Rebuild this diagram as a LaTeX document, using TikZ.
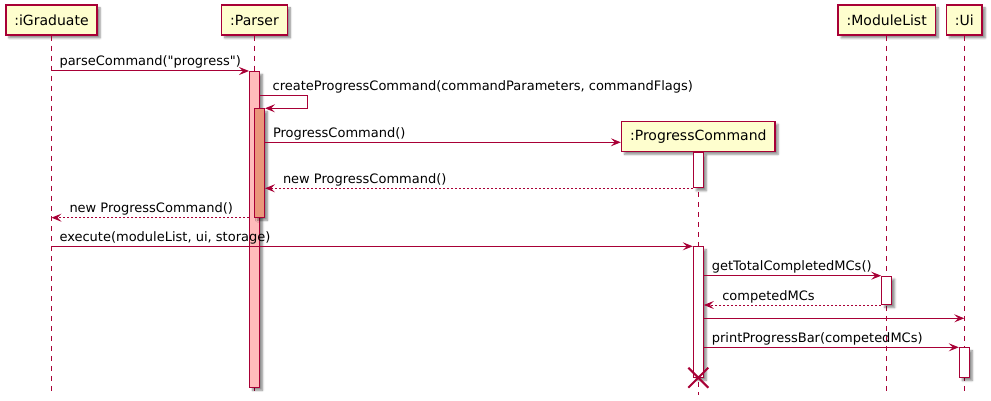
\documentclass[tikz,border=0pt]{standalone}
\usepackage{fontspec}
\setmainfont{DejaVu Sans}[Ligatures=TeXOff]
\usetikzlibrary{arrows.meta,shadows.blur,calc}
\definecolor{umlred}{HTML}{A80036}
\definecolor{umlbox}{HTML}{FEFECE}
\definecolor{actpink}{HTML}{FFBBBB}
\definecolor{actsalmon}{HTML}{E9967A}
\tikzset{
  shade box/.style={blur shadow={shadow xshift=3pt,shadow yshift=-3pt,shadow blur radius=2pt,shadow blur steps=5,shadow opacity=45}},
  part/.style={draw=umlred,line width=1.5pt,fill=umlbox,minimum height=30pt,inner xsep=8.5pt,
    font=\fontsize{14}{16}\selectfont,shade box},
  act/.style={draw=umlred,line width=1pt,fill=white,minimum width=10pt,inner sep=0pt,anchor=north,shade box},
  life/.style={umlred,line width=1pt,dash pattern=on 5pt off 5pt},
  msg/.style={umlred,line width=1pt,-{Stealth[length=10pt,width=8pt,inset=4pt]}},
  ret/.style={msg,dash pattern=on 2pt off 2pt},
  lbl/.style={text=black,font=\fontsize{13}{15}\selectfont,inner sep=0pt,anchor=base west},
}

\begin{document}
\begin{tikzpicture}[x=1pt,y=-1pt]
\useasboundingbox (0,0) rectangle (991,401);
% participants
\node[part] (ig) at (51.5,20) {:iGraduate};
\node[part] (p)  at (254.5,20) {:Parser};
\node[part] (pc) at (698.3,136.3) {:ProgressCommand};
\node[part] (ml) at (886.7,20) {:ModuleList};
\node[part] (ui) at (964.3,20) {:Ui};
% message rows
\foreach \n/\y in {r2/95.7, r3/142.3, r9/318.3, bot/395}
  \coordinate (\n) at (0,\y);
% lifelines
\foreach \l in {ig,p,pc,ml,ui}
  \draw[life] (\l.south) -- (\l.south |- bot);
% activations
\node[act,fill=actpink,minimum height=315.7] (pA) at (254.5,71) {};
\node[act,fill=actsalmon,minimum height=108.4] (pB) at (259.5,108.3) {};
\node[act,minimum height=35.6] (pcA) at (698.3,151.7) {};
\node[act,minimum height=130.4] (pcB) at (698.3,246.3) {};
\node[act,minimum height=28.3] (mlA) at (886.7,275.7) {};
\node[act,minimum height=29.7] (uiA) at (964.3,347.3) {};
% messages
\draw[msg] (ig |- pA.north) -- (pA.north west)
  node[lbl,pos=0,xshift=7.5pt,yshift=5pt] {parseCommand("progress")};
\draw[msg] (pA.east |- r2) -- ++(47.2,0) |- (pB.north east);
\node[lbl,xshift=12.5pt,yshift=5pt] at (pA.east |- r2) {createProgressCommand(commandParameters, commandFlags)};
\draw[msg] (pB.east |- r3) -- (pc.west |- r3)
  node[lbl,pos=0,xshift=7.5pt,yshift=5pt] {ProgressCommand()};
\draw[ret] (pcA.south west) -- (pB.east |- pcA.south)
  node[lbl,pos=1,xshift=17.5pt,yshift=5pt] {new ProgressCommand()};
\draw[ret] (pA.west |- pB.south) -- (ig |- pB.south)
  node[lbl,pos=1,xshift=17.5pt,yshift=5pt] {new ProgressCommand()};
\draw[msg] (ig |- pcB.north) -- (pcB.north west)
  node[lbl,pos=0,xshift=7.5pt,yshift=5pt] {execute(moduleList, ui, storage)};
\draw[msg] (pcB.east |- mlA.north) -- (mlA.north west)
  node[lbl,pos=0,xshift=7.5pt,yshift=5pt] {getTotalCompletedMCs()};
\draw[ret] (mlA.south west) -- (pcB.east |- mlA.south)
  node[lbl,pos=1,xshift=18pt,yshift=5pt] {competedMCs};
\draw[msg] (pcB.east |- r9) -- (ui |- r9);
\draw[msg] (pcB.east |- uiA.north) -- (uiA.north west)
  node[lbl,pos=0,xshift=7.5pt,yshift=5pt] {printProgressBar(competedMCs)};
% destroy
\coordinate (dx) at (pcB.south);
\draw[umlred,line width=2pt] ($(dx)+(-10,-10)$) -- ($(dx)+(10,10)$)
  ($(dx)+(10,-10)$) -- ($(dx)+(-10,10)$);
\end{tikzpicture}
\end{document}
